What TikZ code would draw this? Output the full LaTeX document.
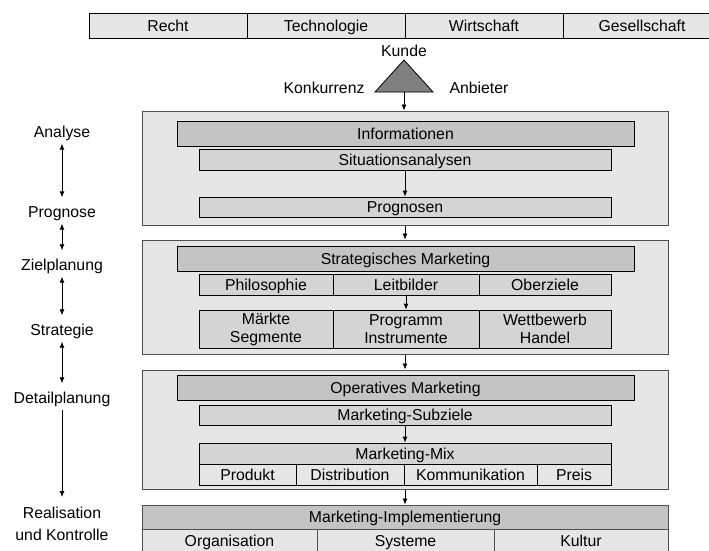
\documentclass[tikz,border=0pt]{standalone}
\usepackage{fontspec}
\setmainfont{Liberation Sans}
\usepackage{tikz}
\usetikzlibrary{arrows.meta,positioning}
\usepackage{xcolor}
\definecolor{paleGray}{HTML}{E6E6E6}
\definecolor{barGray}{HTML}{C4C4C4}
\definecolor{subGray}{HTML}{D4D4D4}
\definecolor{triGray}{HTML}{808080}
\definecolor{frameGray}{HTML}{505050}

\begin{document}
\begin{tikzpicture}[x=1pt,y=-1pt,
  every node/.style={font=\fontsize{15.8}{18}\selectfont,text height=14pt,text depth=3pt},
  twolines/.style={text height=,text depth=,align=center},
  stagebox/.style={draw=frameGray,fill=paleGray,line width=1pt,minimum width=526pt,inner sep=0pt},
  headbar/.style={draw,fill=barGray,line width=0.8pt,minimum width=457pt,minimum height=25pt,inner sep=0pt},
  subbar/.style={draw,fill=subGray,line width=0.8pt,minimum height=21pt,inner sep=0pt},
  cellbox/.style={draw,fill=paleGray,line width=0.8pt,minimum height=21pt,inner sep=0pt},
  phaselbl/.style={inner sep=0pt},
  flow/.style={-{Latex[length=6pt,width=5pt]},line width=0.8pt},
  twoway/.style={{Latex[length=6pt,width=5pt]}-{Latex[length=6pt,width=5pt]},line width=0.8pt,shorten <=3pt,shorten >=6pt}]
  \useasboundingbox (0,0) rectangle (709,550);

  \node[cellbox,minimum width=158pt,minimum height=25pt] (recht) at (168,25.5) {Recht};
  \node[cellbox,minimum width=158pt,minimum height=25pt] (techn) at (326,25.5) {Technologie};
  \node[cellbox,minimum width=158pt,minimum height=25pt] (wirt) at (484,25.5) {Wirtschaft};
  \node[cellbox,minimum width=158pt,minimum height=25pt] (gesell) at (642,25.5) {Gesellschaft};

  \filldraw[fill=triGray,line width=0.8pt] (375,92) -- (404,60) -- (433,92) -- cycle;
  \coordinate (tribase) at (404,92);
  \node (kunde) at (404,51) {Kunde};
  \node[anchor=east] (konk) at (368,88) {Konkurrenz};
  \node[anchor=west] (anbieter) at (446,88) {Anbieter};

  \node[stagebox,minimum height=114pt] (stage1) at (405,168) {};
  \node[headbar] (info) at (405.5,133.5) {Informationen};
  \node[subbar,minimum width=412pt] (situ) at (405,159.5) {Situationsanalysen};
  \node[subbar,minimum width=412pt,minimum height=20pt] (progn) at (405,207) {Prognosen};

  \node[stagebox,minimum height=114pt] (stage2) at (405,297) {};
  \node[headbar] (strat) at (405.5,259) {Strategisches Marketing};
  \node[subbar,minimum width=134pt] (philo) at (266,284.5) {Philosophie};
  \node[subbar,minimum width=146pt] (leit) at (406,284.5) {Leitbilder};
  \node[subbar,minimum width=132pt] (oberz) at (545,284.5) {Oberziele};
  \node[subbar,twolines,minimum width=134pt,minimum height=38pt] (maerkte) at (266,329) {Märkte\\Segmente};
  \node[subbar,twolines,minimum width=146pt,minimum height=38pt] (progr) at (406,329) {Programm\\Instrumente};
  \node[subbar,twolines,minimum width=132pt,minimum height=38pt] (wettb) at (545,329) {Wettbewerb\\Handel};

  \node[stagebox,minimum height=119pt] (stage3) at (405,429.5) {};
  \node[headbar] (oper) at (405.5,387.5) {Operatives Marketing};
  \node[subbar,minimum width=412pt,minimum height=20pt] (subz) at (405,415) {Marketing-Subziele};
  \node[subbar,minimum width=412pt] (mix) at (405,453.5) {Marketing-Mix};
  \node[cellbox,minimum width=97pt] (produkt) at (247.5,474.5) {Produkt};
  \node[cellbox,minimum width=108pt] (distr) at (350,474.5) {Distribution};
  \node[cellbox,minimum width=133pt] (komm) at (470.5,474.5) {Kommunikation};
  \node[cellbox,minimum width=74pt] (preis) at (574,474.5) {Preis};

  \node[stagebox,fill=barGray,minimum height=24pt] (impl) at (405,517) {Marketing-Implementierung};
  \node[cellbox,draw=frameGray,line width=1pt,minimum width=175pt,minimum height=24pt] (orga) at (229.5,541) {Organisation};
  \node[cellbox,draw=frameGray,line width=1pt,minimum width=177pt,minimum height=24pt] (syst) at (405.5,541) {Systeme};
  \node[cellbox,draw=frameGray,line width=1pt,minimum width=174pt,minimum height=24pt] (kultur) at (581,541) {Kultur};

  \draw[flow] (tribase) -- (stage1.north -| tribase);
  \draw[flow] (situ) -- (progn);
  \draw[flow] (stage1) -- (stage2);
  \draw[flow] (leit) -- (progr);
  \draw[flow] (stage2) -- (stage3);
  \draw[flow] (subz) -- (mix);
  \draw[flow] (stage3) -- (impl);

  \node[phaselbl] (analyse) at (62,132) {Analyse};
  \node[phaselbl] (prognose) at (62,212) {Prognose};
  \node[phaselbl] (zielpl) at (62,265) {Zielplanung};
  \node[phaselbl] (strategie) at (62,330) {Strategie};
  \node[phaselbl] (detailpl) at (62,398) {Detailplanung};
  \node[phaselbl,twolines] (realis) at (62,524) {Realisation\\[4pt]und Kontrolle};

  \draw[twoway] (analyse) -- (prognose);
  \draw[twoway] (prognose) -- (zielpl);
  \draw[twoway] (zielpl) -- (strategie);
  \draw[twoway] (strategie) -- (detailpl);
  \draw[flow,shorten <=3pt,shorten >=10pt] (detailpl) -- (realis);
\end{tikzpicture}
\end{document}
